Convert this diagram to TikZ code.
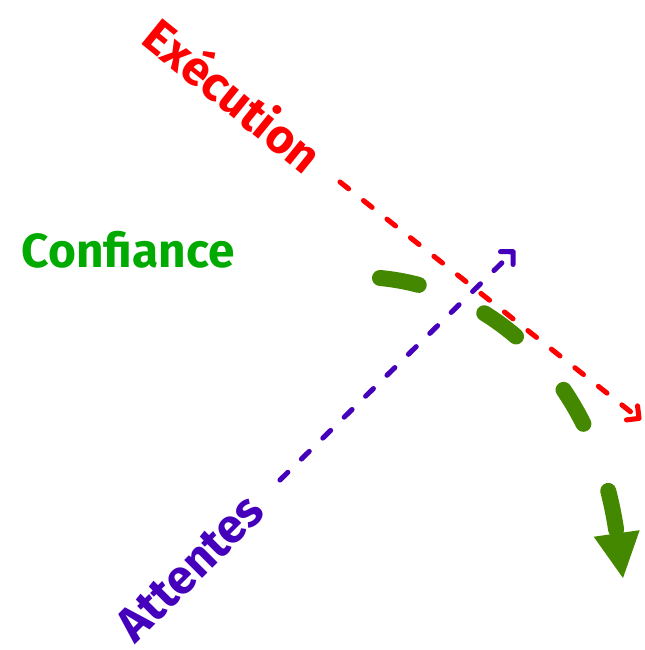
\documentclass[tikz,border=0pt]{standalone}
\usepackage{fontspec}
\setmainfont{Fira Sans}
\usepackage{tikz}
\usetikzlibrary{arrows.meta}
\definecolor{execred}{HTML}{FF0000}
\definecolor{trustgreen}{HTML}{00AA00}
\definecolor{trendgreen}{HTML}{448800}
\definecolor{expectblue}{HTML}{4400BB}

\begin{document}
\begin{tikzpicture}[
    lbl/.style={font=\bfseries\fontsize{34}{40}\selectfont, inner sep=0pt},
    axis/.style={line width=3.6pt, line cap=round, dash pattern=on 7.8pt off 13.5pt, -{Straight Barb[angle=90:9pt, round]}},
    trend/.style={line width=11.4pt, line cap=round, dash pattern=on 28pt off 51pt, -{Triangle[length=32pt, width=33pt, line width=0pt]}},
]
\useasboundingbox (0,0) rectangle (16.1,16.25);

% Labels
\node[lbl, text=execred, rotate=-39] (exec) at (5.85,13.9) {Exécution};
\node[lbl, text=trustgreen] (trust) at (3.2,10.0) {Confiance};
\node[lbl, text=expectblue, rotate=45] (expect) at (4.75,2.05) {Attentes};

% Line ends
\coordinate (execA) at (8.5,11.7);
\coordinate (execB) at (16.025,5.75);
\coordinate (expectA) at (7.0,4.25);
\coordinate (expectB) at (12.875,10.0);
\coordinate (trustA) at (9.5,9.3);
\coordinate (trustB) at (15.575,1.8);

% Arrows
\draw[axis, execred] (execA) -- (execB);
\draw[axis, expectblue] (expectA) -- (expectB);
\draw[trend, trendgreen] (trustA) .. controls (12.2,9.05) and (14.85,6.9) .. (trustB);

\end{tikzpicture}
\end{document}
